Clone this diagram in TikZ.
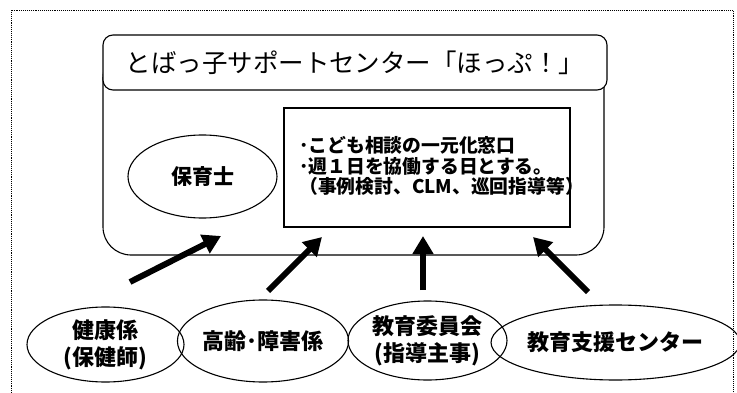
\documentclass[tikz,border=0pt]{standalone}
\usepackage{fontspec}
\setmainfont{Noto Sans CJK JP}
\usepackage{tikz}
\usetikzlibrary{shapes,arrows,positioning,calc,arrows.meta}

\tikzset{
    bubble/.style={ellipse, draw, line width=1.1pt, inner sep=0pt, align=center,
        font=\fontsize{22}{27}\selectfont\bfseries},
    bigarrow/.style={line width=6pt, -{Triangle[width=20pt,length=18pt]}}
}

\begin{document}
\begin{tikzpicture}[x=1pt, y=-1pt]
    \useasboundingbox (0,0) rectangle (737,393);

    % Outer frame
    \draw[densely dotted, line width=0.9pt] (11,393) -- (11,10) -- (733,10) -- (733,393);

    % Center body and title
    \node[draw, line width=1.1pt, rounded corners=28, minimum width=501, minimum height=205] (body) at (353.5,152.5) {};
    \node[draw, fill=white, line width=1.1pt, rounded corners=10, minimum width=504, minimum height=55,
        font=\fontsize{25.5}{30}\selectfont] (title) at (355,62.5) {とばっ子サポートセンター「ほっぷ！」};

    % Inside the center
    \node[bubble, minimum width=149, minimum height=83, font=\fontsize{21}{25}\selectfont\bfseries] (hoikushi) at (202.5,176.5) {保育士};
    \node[draw, line width=1.1pt, minimum width=286, minimum height=119] (madoguchi) at (427,167.5) {};
    \node[anchor=west, align=left, inner sep=0pt, font=\fontsize{18.8}{20.8}\selectfont\bfseries] (madoguchitext) at (299,166)
        {･こども相談の一元化窓口\\･週１日を協働する日とする。\\（事例検討、CLM、巡回指導等）};

    % Partners
    \node[bubble, minimum width=157, minimum height=75] (kenko) at (105.5,344.5) {健康係\\(保健師)};
    \node[bubble, minimum width=158, minimum height=82] (korei) at (263,341) {高齢･障害係};
    \node[bubble, minimum width=159, minimum height=79] (iinkai) at (427.5,340.5) {教育委員会\\(指導主事)};
    \node[bubble, minimum width=205, minimum height=75] (shien) at (615.5,342.5) {教育支援センター};

    % Arrows into the center
    \coordinate (kenkofrom) at (130,282);
    \coordinate (kenkoto) at (221,236);
    \coordinate (koreifrom) at (268,291);
    \coordinate (koreito) at (322,237);
    \coordinate (iinkaifrom) at (423,290);
    \coordinate (iinkaito) at (423,236);
    \coordinate (shienfrom) at (588,292);
    \coordinate (shiento) at (533,237);
    \draw[bigarrow] (kenkofrom) -- (kenkoto);
    \draw[bigarrow] (koreifrom) -- (koreito);
    \draw[bigarrow] (iinkaifrom) -- (iinkaito);
    \draw[bigarrow] (shienfrom) -- (shiento);
\end{tikzpicture}
\end{document}
